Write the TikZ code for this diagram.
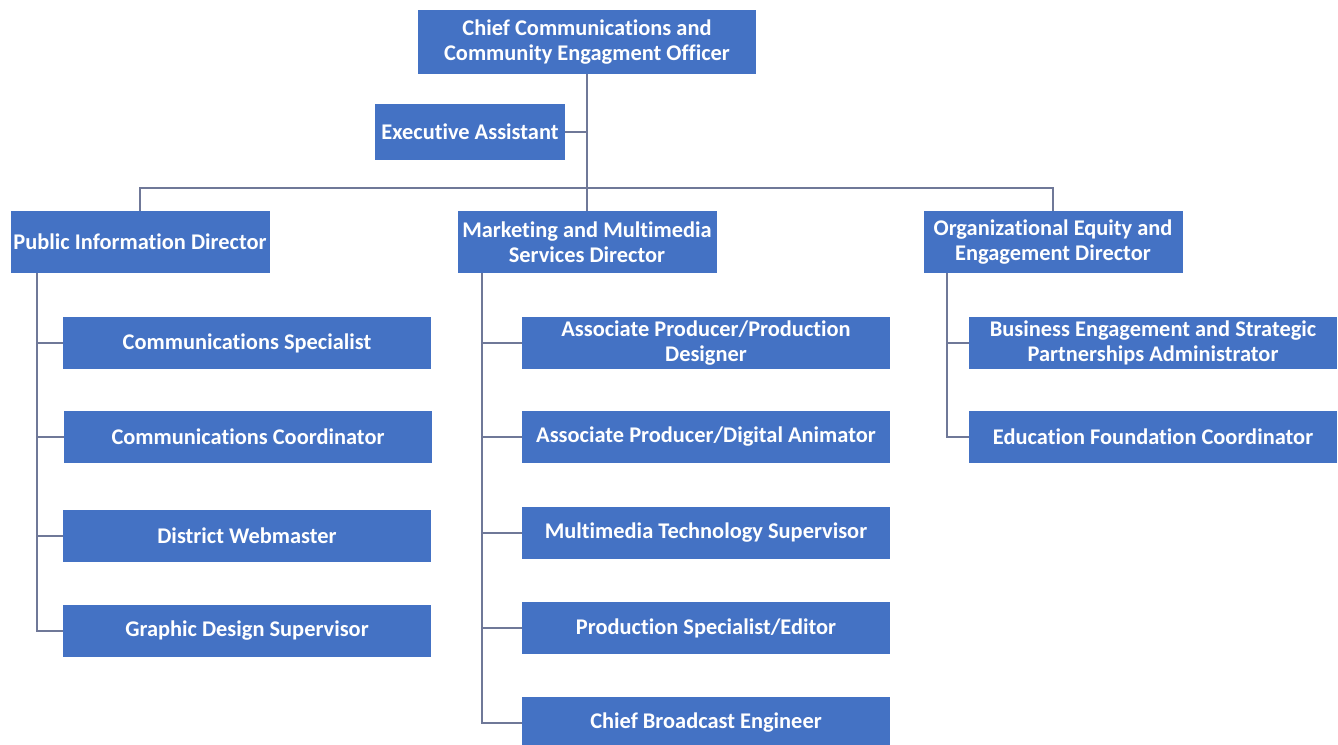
\documentclass[tikz,border=0pt]{standalone}
\usepackage{fontspec}
\setmainfont{Carlito}[Ligatures=NoCommon]
\definecolor{boxblue}{HTML}{4472C4}
\definecolor{linegray}{HTML}{6F7898}

\begin{document}
\begin{tikzpicture}[x=0.5pt, y=-0.5pt]
\tikzstyle{unitStyle} = [fill = boxblue, text = white, align = center, inner sep = 0pt, font = \bfseries\fontsize{11.2}{12.5}\selectfont]
\tikzstyle{headStyle} = [unitStyle, minimum width = 169pt, minimum height = 32pt]
\tikzstyle{assistStyle} = [unitStyle, minimum width = 95pt, minimum height = 28pt]
\tikzstyle{directorStyle} = [unitStyle, minimum width = 129.5pt, minimum height = 31pt]
\tikzstyle{staffStyle} = [unitStyle, minimum width = 184pt, minimum height = 26pt]
\tikzstyle{linkStyle} = [draw = linegray, line width = 1.2pt]
\useasboundingbox (0,0) rectangle (1338,744);
\clip (0,0) rectangle (1338,744);
% top
\node[headStyle] (chief) at (587,42) {Chief Communications and\\Community Engagment Officer};
\node[assistStyle] (exec) at (470,132) {Executive Assistant};
% directors
\node[directorStyle] (pub) at (140,242) {Public Information Director};
\node[directorStyle] (mkt) at (587,242) {Marketing and Multimedia\\Services Director};
\node[directorStyle] (org) at (1053,242) {Organizational Equity and\\Engagement Director};
% public information
\node[staffStyle] (cs) at (247,343) {Communications Specialist};
\node[staffStyle] (cc) at (248,437) {Communications Coordinator};
\node[staffStyle] (dw) at (247,536) {District Webmaster};
\node[staffStyle] (gd) at (247,631) {Graphic Design Supervisor};
% marketing
\node[staffStyle] (apd) at (706,343) {Associate Producer/Production\\Designer};
\node[staffStyle] (ada) at (706,437) {Associate Producer/Digital Animator};
\node[staffStyle] (mts) at (706,533) {Multimedia Technology Supervisor};
\node[staffStyle] (pse) at (706,628) {Production Specialist/Editor};
\node[staffStyle] (cbe) at (706,723) {Chief Broadcast Engineer};
% equity
\node[staffStyle] (bes) at (1153,343) {Business Engagement and Strategic\\Partnerships Administrator};
\node[staffStyle] (efc) at (1153,437) {Education Foundation Coordinator};
% links
\coordinate (bus) at (587,188);
\coordinate (pubT) at (37,273);
\coordinate (mktT) at (482,273);
\coordinate (orgT) at (947,273);
\draw[linkStyle] (chief.south) -- (mkt.north);
\draw[linkStyle] (exec.east) -- (exec.east -| chief.south);
\draw[linkStyle] (pub.north) |- (bus) -| (org.north);
\foreach \n in {cs, cc, dw, gd}
  \draw[linkStyle] (pubT) |- (\n.west);
\foreach \n in {apd, ada, mts, pse, cbe}
  \draw[linkStyle] (mktT) |- (\n.west);
\foreach \n in {bes, efc}
  \draw[linkStyle] (orgT) |- (\n.west);
\end{tikzpicture}
\end{document}
